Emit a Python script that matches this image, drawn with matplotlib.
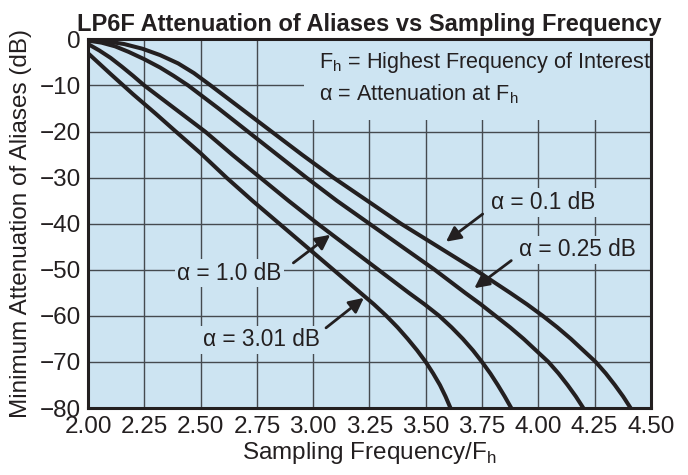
import matplotlib
matplotlib.use('Agg')
import matplotlib.pyplot as plt
from matplotlib.patches import Rectangle

plt.rcParams['font.family'] = ['Liberation Sans', 'DejaVu Sans']
plt.rcParams['mathtext.fontset'] = 'custom'
plt.rcParams['mathtext.rm'] = 'Liberation Sans'
plt.rcParams['axes.unicode_minus'] = True

# values (sampling freq / Fh, attenuation in dB)
freq_a01 = [2.00, 2.08, 2.16, 2.24, 2.32, 2.40, 2.47, 2.545, 2.68, 2.815, 2.95, 3.09,
            3.24, 3.39, 3.555, 3.72, 3.875, 3.95, 4.02, 4.085, 4.145, 4.20, 4.255,
            4.30, 4.34, 4.377, 4.41]
att_a01 = [-0.1, -0.4, -1.0, -2.0, -3.4, -5.2, -7.3, -10.0, -15.0, -20.0, -25.0, -30.0,
           -35.0, -40.0, -45.0, -50.0, -55.0, -57.5, -60.0, -62.5, -65.0, -67.5, -70.0,
           -72.5, -75.0, -77.5, -80.0]

freq_a025 = [2.00, 2.06, 2.12, 2.18, 2.25, 2.32, 2.38, 2.445, 2.58, 2.71, 2.84, 2.97,
             3.105, 3.25, 3.395, 3.54, 3.675, 3.745, 3.81, 3.875, 3.935, 3.99, 4.045,
             4.09, 4.13, 4.167, 4.20]
att_a025 = [-0.25, -0.7, -1.5, -2.7, -4.3, -6.1, -7.9, -10.0, -15.0, -20.0, -25.0, -30.0,
            -35.0, -40.0, -45.0, -50.0, -55.0, -57.5, -60.0, -62.5, -65.0, -67.5, -70.0,
            -72.5, -75.0, -77.5, -80.0]

freq_a10 = [2.00, 2.05, 2.10, 2.15, 2.20, 2.25, 2.385, 2.52, 2.64, 2.765, 2.89, 3.02,
            3.155, 3.29, 3.425, 3.495, 3.56, 3.615, 3.665, 3.71, 3.75, 3.787, 3.82,
            3.851, 3.88]
att_a10 = [-1.0, -2.4, -4.0, -5.9, -7.9, -10.0, -15.0, -20.0, -25.0, -30.0, -35.0, -40.0,
           -45.0, -50.0, -55.0, -57.5, -60.0, -62.5, -65.0, -67.5, -70.0, -72.5, -75.0,
           -77.5, -80.0]

freq_a301 = [2.00, 2.10, 2.20, 2.30, 2.39, 2.50, 2.615, 2.73, 2.85, 2.97, 3.09, 3.21,
             3.27, 3.325, 3.375, 3.42, 3.462, 3.50, 3.533, 3.563, 3.588, 3.61]
att_a301 = [-3.0, -7.5, -11.9, -16.1, -20.0, -24.7, -30.0, -35.0, -40.0, -45.0, -50.0, -55.0,
            -57.5, -60.0, -62.5, -65.0, -67.5, -70.0, -72.5, -75.0, -77.5, -80.0]

x_ticks = [2.00, 2.25, 2.50, 2.75, 3.00, 3.25, 3.50, 3.75, 4.00, 4.25, 4.50]
y_ticks = [0, -10, -20, -30, -40, -50, -60, -70, -80]

bg = '#cde4f2'
ink = '#231f20'

fig = plt.figure(figsize=(6.88, 4.75), dpi=100)
ax = fig.add_axes([0.128, 0.141, 0.818, 0.776])
ax.set_facecolor(bg)

for fx, ay in [(freq_a01, att_a01), (freq_a025, att_a025),
               (freq_a10, att_a10), (freq_a301, att_a301)]:
    ax.plot(fx, ay, color=ink, lw=2.9, solid_joinstyle='round',
            solid_capstyle='butt', zorder=4)

ax.set_xlim(2.0, 4.5)
ax.set_ylim(-80, 0)
ax.set_xticks(x_ticks)
ax.set_xticklabels(['{:.2f}'.format(v) for v in x_ticks])
ax.set_yticks(y_ticks)
ax.set_yticklabels([str(v).replace('-', '\u2212') for v in y_ticks])
ax.tick_params(length=0, labelsize=17.5, colors=ink)
ax.tick_params(axis='x', pad=6)
ax.tick_params(axis='y', pad=5)
ax.grid(True, color='#454a4f', lw=1.0)
ax.set_axisbelow(True)
for s in ax.spines.values():
    s.set_linewidth(2.2)
    s.set_color(ink)
    s.set_zorder(6)

ax.set_title('LP6F Attenuation of Aliases vs Sampling Frequency',
             fontsize=17, fontweight='bold', color=ink, pad=6)
ax.set_xlabel('Sampling Frequency/F$_\\mathregular{h}$', fontsize=17.5, color=ink, labelpad=1)
ax.set_ylabel('Minimum Attenuation of Aliases (dB)', fontsize=17.5, color=ink, labelpad=6)

# note in the top right, hides the grid behind it
ax.add_patch(Rectangle((2.96, -17.5), 1.54, 17.5, facecolor=bg, edgecolor='none', zorder=2))
ax.text(3.025, -5.0, 'F$_\\mathregular{h}$ = Highest Frequency of Interest', fontsize=15.6,
        color=ink, va='center', ha='left', zorder=5)
ax.text(3.025, -11.8, '\u03b1 = Attenuation at F$_\\mathregular{h}$', fontsize=15.6,
        color=ink, va='center', ha='left', zorder=5)

box = dict(facecolor=bg, edgecolor='none', pad=2)
notes = [
    ('\u03b1 = 0.1 dB', (4.02, -35.4), (3.753, -37.9), (3.59, -43.9)),
    ('\u03b1 = 0.25 dB', (4.173, -45.7), (3.88, -48.0), (3.716, -54.0)),
    ('\u03b1 = 1.0 dB', (2.628, -50.7), (2.912, -48.5), (3.076, -42.4)),
    ('\u03b1 = 3.01 dB', (2.771, -65.2), (3.057, -62.6), (3.225, -56.1)),
]
for txt, pos, tail, tip in notes:
    ax.text(pos[0], pos[1], txt, fontsize=16.3, color=ink, ha='center', va='center',
            bbox=box, zorder=3)
    ax.annotate('', xy=tip, xytext=tail,
                arrowprops=dict(arrowstyle='-|>', color=ink, lw=2.0,
                                mutation_scale=22, shrinkA=0, shrinkB=0),
                zorder=5)

fig.savefig('out.png', dpi=100, facecolor='white')
